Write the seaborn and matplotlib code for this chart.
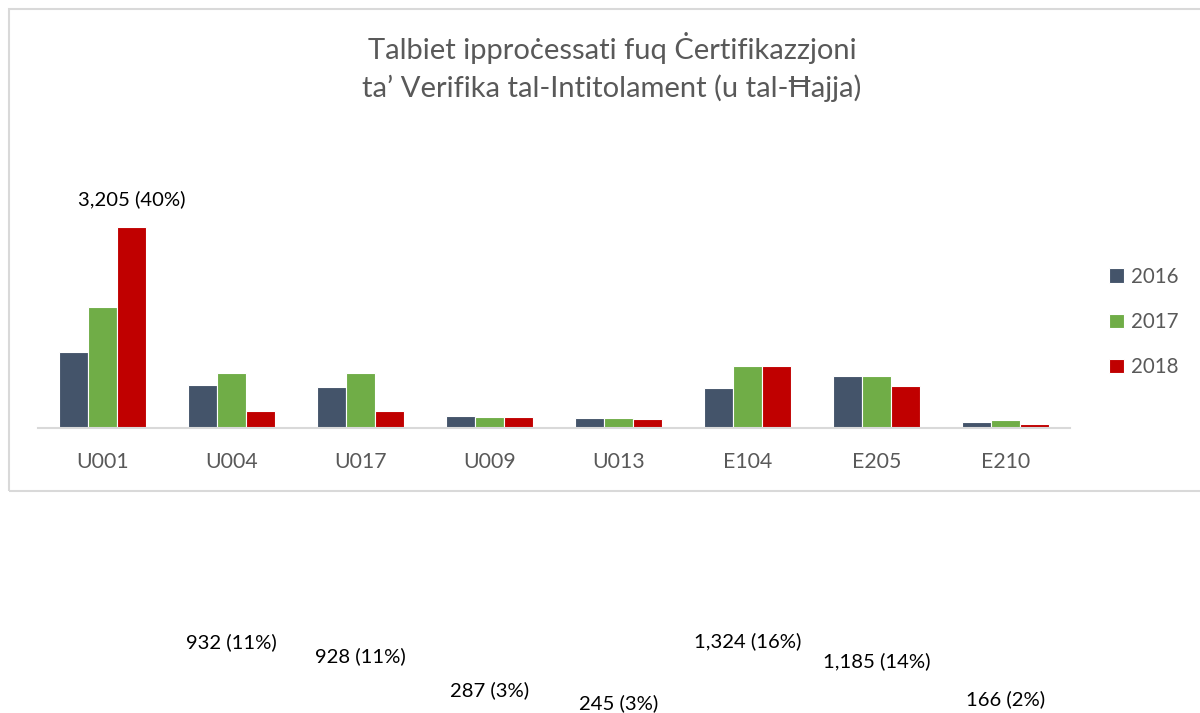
import pandas as pd
import seaborn as sns
from matplotlib import pyplot as plt
from matplotlib import transforms
from matplotlib.patches import Rectangle

# dejta (stmata mill-grafika)
kodici = ['U001', 'U004', 'U017', 'U009', 'U013', 'E104', 'E205', 'E210']
snin = ['2016', '2017', '2018']
val_2016 = [1210, 680, 660, 185, 155, 640, 825, 95]
val_2017 = [1925, 880, 880, 170, 155, 980, 820, 125]
val_2018 = [3205, 270, 275, 170, 140, 980, 675, 65]
tikketti = ['3,205 (40%)', '932 (11%)', '928 (11%)', '287 (3%)', '245 (3%)',
            '1,324 (16%)', '1,185 (14%)', '166 (2%)']
# pozizzjoni vertikali (frazzjoni tal-figura) tat-tikketti "mitlufa"
tikketti_y = [None, 0.099, 0.080, 0.032, 0.014, 0.101, 0.073, 0.020]

kuluri = ['#44546A', '#70AD47', '#C00000']

df = pd.DataFrame({
    'Kodici': kodici * 3,
    'Sena': [s for s in snin for _ in kodici],
    'Talbiet': val_2016 + val_2017 + val_2018,
})

sns.set_style('white')
plt.rcParams['font.family'] = ['Lato', 'DejaVu Sans']

fig = plt.figure(figsize=(12, 7.13), dpi=100)
ax = fig.add_axes([0.0317, 0.3997, 0.8600, 0.35])

sns.barplot(data=df, x='Kodici', y='Talbiet', hue='Sena', palette=kuluri,
            saturation=1, width=0.67, edgecolor='white', linewidth=0.8, ax=ax)

ax.set_xlim(-0.5, 7.5)
ax.set_ylim(0, 3970)
ax.set_xlabel('')
ax.set_ylabel('')
ax.set_yticks([])
for s in ['top', 'right', 'left']:
    ax.spines[s].set_visible(False)
ax.spines['bottom'].set_color('#D9D9D9')
ax.spines['bottom'].set_linewidth(1.5)
ax.tick_params(axis='x', length=0, pad=17, labelsize=15.3, labelcolor='#595959')
ax.set_facecolor('none')

# leġġenda
ax.legend(loc='center left', bbox_to_anchor=(1.02, 0.425), frameon=False,
          fontsize=14.8, labelcolor='#595959', handlelength=0.7, handleheight=0.7,
          handletextpad=0.35, labelspacing=1.22)

# titolu
fig.text(0.51, 0.933, 'Talbiet ippro\u010bessati fuq \u010aertifikazzjoni',
         ha='center', va='center', fontsize=21, color='#595959')
fig.text(0.51, 0.876, 'ta\u2019 Verifika tal-Intitolament (u tal-\u0126ajja)',
         ha='center', va='center', fontsize=21, color='#595959')

# tikketta fuq l-ogħla bar
off = 0.67 / 3
ax.annotate(tikketti[0], xy=(0 + off, val_2018[0]), xytext=(0, 27),
            textcoords='offset pixels', ha='center', va='center',
            fontsize=14.6, color='black')

# tikketti l-oħra, barra mill-qafas
tr = transforms.blended_transform_factory(ax.transData, fig.transFigure)
for i in range(1, len(kodici)):
    ax.text(i, tikketti_y[i], tikketti[i], transform=tr, ha='center', va='center',
            fontsize=14.6, color='black', clip_on=False)

# qafas tal-grafika
fig.patches.append(Rectangle((0.0075, 0.312), 1.0, 0.675, transform=fig.transFigure,
                             fill=False, edgecolor='#D9D9D9', linewidth=1.5))

plt.savefig('out.png', dpi=100, facecolor='white')
